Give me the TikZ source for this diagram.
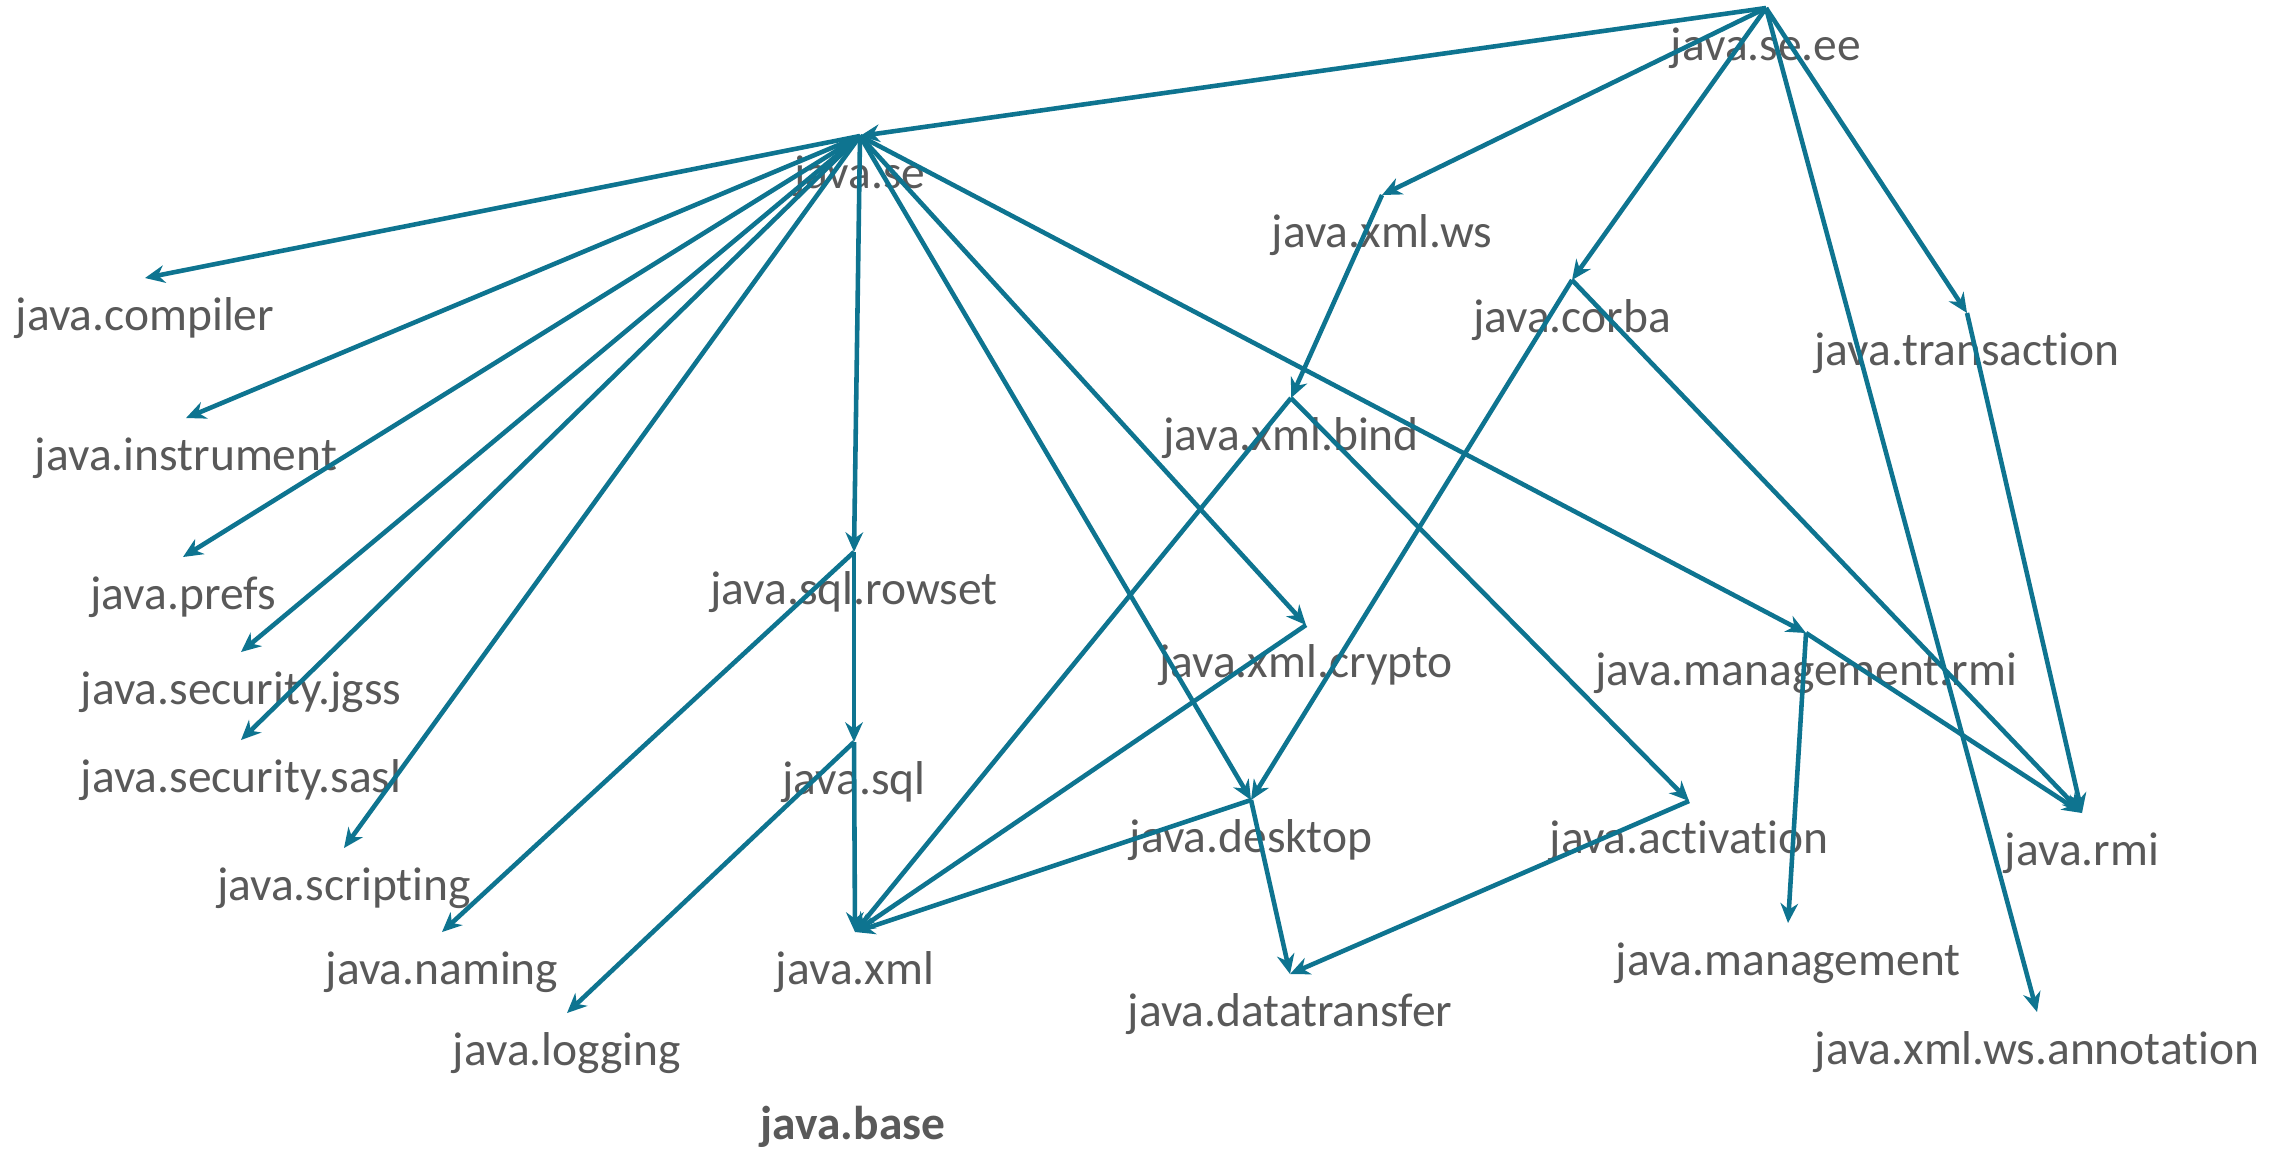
\documentclass[tikz,border=0pt]{standalone}
\usepackage{fontspec}
\setmainfont{Carlito}[Ligatures={NoCommon}]
\usetikzlibrary{arrows.meta}
\definecolor{linkteal}{RGB}{14,116,144}
\definecolor{labelgray}{RGB}{89,89,89}

% a module: a hub point where dependency lines meet, and its name set below it
\newcommand\modnode[4]{%
  \node[hub] (#1) at (#2,#3) {};
  \node[lbl] (#1-label) at (#2,#3+52) {#4};}

\begin{document}
\begin{tikzpicture}[x=0.01cm,y=-0.01cm,
  hub/.style={coordinate},
  lbl/.style={anchor=base, inner sep=0pt, text=labelgray,
              font=\fontsize{13.5}{16}\selectfont},
  dep/.style={draw=linkteal, line width=1.3pt, line join=round,
              -{Stealth[length=5.6pt,width=5pt,inset=1.8pt]}}]
\fill[white] (0,0) rectangle (2292,1150);
\useasboundingbox (0,0) rectangle (2292,1150);

% modules
\modnode{seee}{1766}{8}{java.se.ee}
\modnode{se}{860}{136}{java.se}
\modnode{compiler}{145}{278}{java.compiler}
\modnode{instrument}{186}{418}{java.instrument}
\modnode{prefs}{183}{557}{java.prefs}
\modnode{jgss}{241}{652}{java.security.jgss}
\modnode{sasl}{241}{740}{java.security.sasl}
\modnode{scripting}{344}{848}{java.scripting}
\modnode{naming}{442}{932}{java.naming}
\modnode{logging}{567}{1013}{java.logging}
\modnode{rowset}{854}{552}{java.sql.rowset}
\modnode{sql}{854}{742}{java.sql}
\modnode{xml}{855}{932}{java.xml}
\modnode{xmlws}{1382}{195}{java.xml.ws}
\modnode{xmlbind}{1291}{398}{java.xml.bind}
\modnode{crypto}{1306}{625}{java.xml.crypto}
\modnode{desktop}{1251}{800}{java.desktop}
\modnode{datatransfer}{1290}{974}{java.datatransfer}
\modnode{corba}{1572}{280}{java.corba}
\modnode{activation}{1689}{801}{java.activation}
\modnode{transaction}{1967}{313}{java.transaction}
\modnode{mgmtrmi}{1806}{633}{java.management.rmi}
\modnode{mgmt}{1788}{923}{java.management}
\modnode{rmi}{2082}{813}{java.rmi}
\modnode{annotation}{2037}{1012}{java.xml.ws.annotation}

\node[lbl, font=\fontsize{13.5}{16}\selectfont\bfseries] (base) at (853,1139) {java.base};

% dependencies of java.se.ee
\draw[dep] (seee) -- (se);
\draw[dep] (seee) -- (xmlws);
\draw[dep] (seee) -- (corba);
\draw[dep] (seee) -- (transaction);
\draw[dep] (seee) -- (annotation);

% dependencies of java.se
\draw[dep] (se) -- (compiler);
\draw[dep] (se) -- (instrument);
\draw[dep] (se) -- (prefs);
\draw[dep] (se) -- (jgss);
\draw[dep] (se) -- (sasl);
\draw[dep] (se) -- (scripting);
\draw[dep] (se) -- (rowset);
\draw[dep] (se) -- (desktop);
\draw[dep] (se) -- (crypto);
\draw[dep] (se) -- (mgmtrmi);

% remaining dependencies
\draw[dep] (xmlws) -- (xmlbind);
\draw[dep] (xmlbind) -- (xml);
\draw[dep] (xmlbind) -- (activation);
\draw[dep] (corba) -- (desktop);
\draw[dep] (corba) -- (rmi);
\draw[dep] (transaction) -- (rmi);
\draw[dep] (mgmtrmi) -- (rmi);
\draw[dep] (mgmtrmi) -- (mgmt);
\draw[dep] (rowset) -- (sql);
\draw[dep] (rowset) -- (naming);
\draw[dep] (sql) -- (xml);
\draw[dep] (sql) -- (logging);
\draw[dep] (crypto) -- (xml);
\draw[dep] (desktop) -- (xml);
\draw[dep] (desktop) -- (datatransfer);
\draw[dep] (activation) -- (datatransfer);
\end{tikzpicture}
\end{document}
